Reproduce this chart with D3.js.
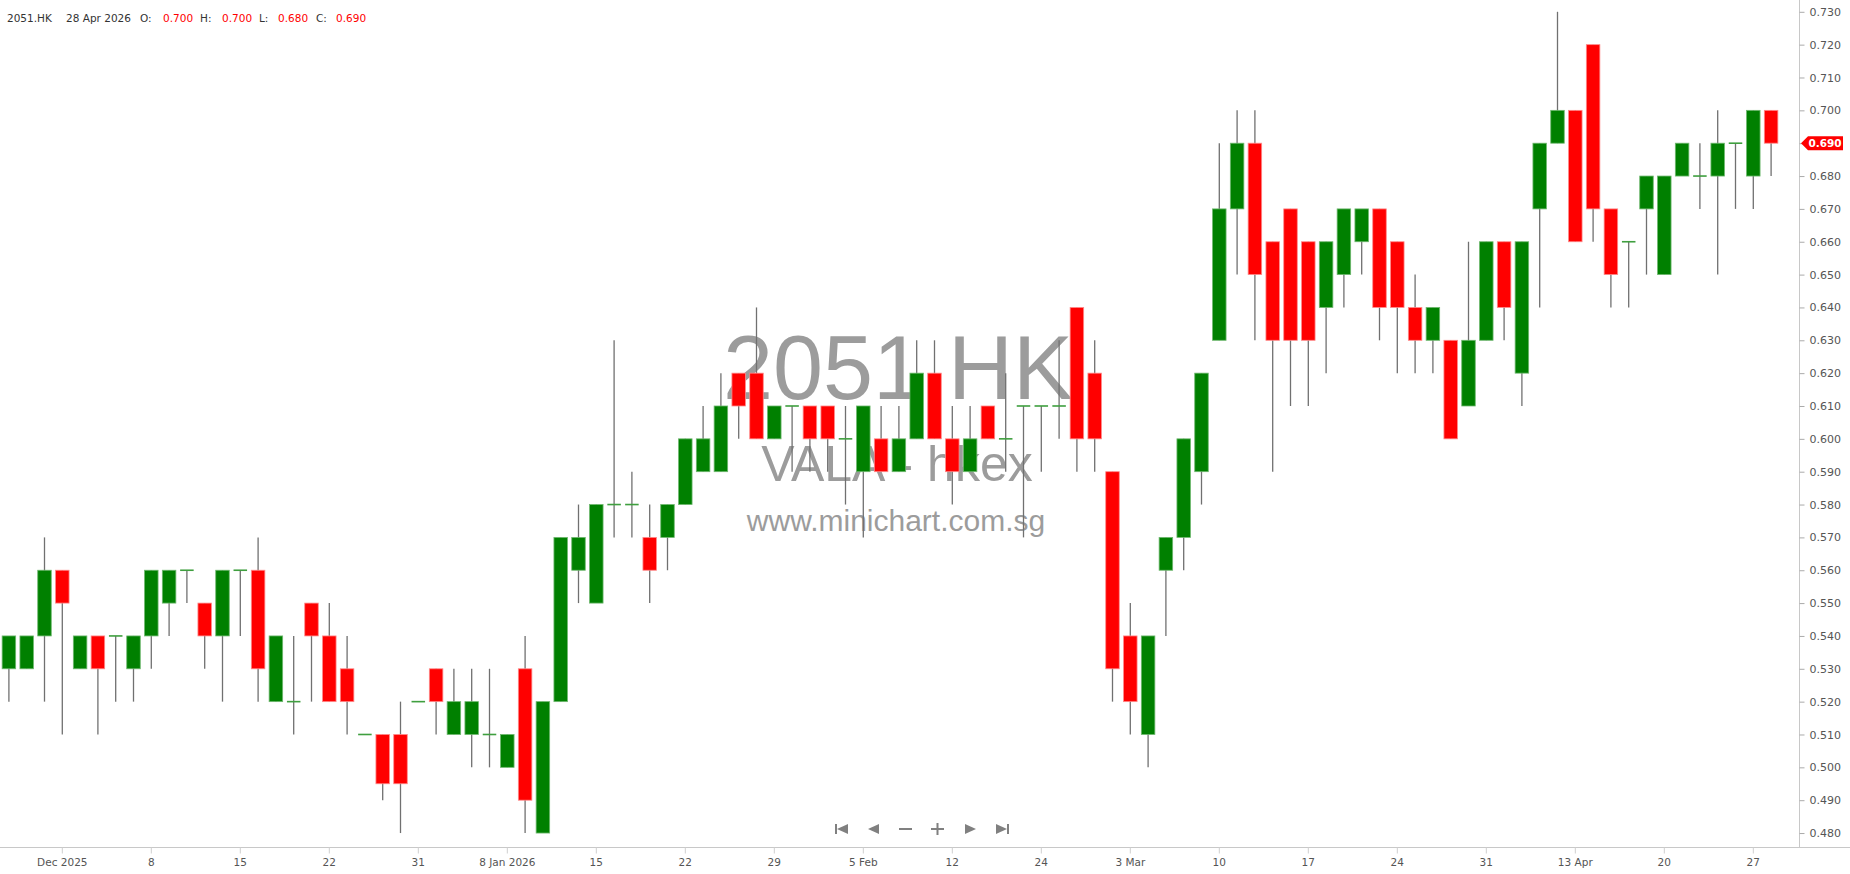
<!DOCTYPE html>
<html>
<head>
<meta charset="utf-8">
<script src="https://cdn.jsdelivr.net/npm/d3@7/dist/d3.min.js"></script>
<style>
  html, body { margin: 0; padding: 0; background: #fff; }
  svg { display: block; }
</style>
</head>
<body>
<svg id="chart" width="1850" height="874"></svg>
<script>
// ---------------- DATA ----------------
const symbol = "2051.HK";
const dates = [
  "2025-11-26","2025-11-27","2025-11-28",
  "2025-12-01","2025-12-02","2025-12-03","2025-12-04","2025-12-05","2025-12-08","2025-12-09","2025-12-10","2025-12-11","2025-12-12",
  "2025-12-15","2025-12-16","2025-12-17","2025-12-18","2025-12-19","2025-12-22","2025-12-23","2025-12-24","2025-12-29","2025-12-30","2025-12-31",
  "2026-01-02","2026-01-05","2026-01-06","2026-01-07","2026-01-08","2026-01-09","2026-01-12","2026-01-13","2026-01-14","2026-01-15","2026-01-16",
  "2026-01-19","2026-01-20","2026-01-21","2026-01-22","2026-01-23","2026-01-26","2026-01-27","2026-01-28","2026-01-29","2026-01-30",
  "2026-02-02","2026-02-03","2026-02-04","2026-02-05","2026-02-06","2026-02-09","2026-02-10","2026-02-11","2026-02-12","2026-02-13",
  "2026-02-16","2026-02-20","2026-02-23","2026-02-24","2026-02-25","2026-02-26","2026-02-27",
  "2026-03-02","2026-03-03","2026-03-04","2026-03-05","2026-03-06","2026-03-09","2026-03-10","2026-03-11","2026-03-12","2026-03-13",
  "2026-03-16","2026-03-17","2026-03-18","2026-03-19","2026-03-20","2026-03-23","2026-03-24","2026-03-25","2026-03-26","2026-03-27",
  "2026-03-30","2026-03-31",
  "2026-04-01","2026-04-02","2026-04-09","2026-04-10","2026-04-13","2026-04-14","2026-04-15","2026-04-16","2026-04-17",
  "2026-04-20","2026-04-21","2026-04-22","2026-04-23","2026-04-24","2026-04-27","2026-04-28"
];
const open = [
  0.53,0.53,0.54,0.56,0.53,0.54,0.54,0.53,0.54,0.55,
  0.56,0.55,0.54,0.56,0.56,0.52,0.52,0.55,0.54,0.53,
  0.51,0.51,0.51,0.52,0.53,0.51,0.51,0.51,0.50,0.53,
  0.48,0.52,0.56,0.55,0.58,0.58,0.57,0.57,0.58,0.59,
  0.59,0.62,0.62,0.60,0.61,0.61,0.61,0.60,0.59,0.60,
  0.59,0.60,0.62,0.60,0.59,0.61,0.60,0.61,0.61,0.61,
  0.64,0.62,0.59,0.54,0.51,0.56,0.57,0.59,0.63,0.67,
  0.69,0.66,0.67,0.66,0.64,0.65,0.66,0.67,0.66,0.64,
  0.63,0.63,0.61,0.63,0.66,0.62,0.67,0.69,0.70,0.72,
  0.67,0.66,0.67,0.65,0.68,0.68,0.68,0.69,0.68,0.70
];
const high = [
  0.54,0.54,0.57,0.56,0.54,0.54,0.54,0.54,0.56,0.56,
  0.56,0.55,0.56,0.56,0.57,0.54,0.54,0.55,0.55,0.54,
  0.51,0.51,0.52,0.52,0.53,0.53,0.53,0.53,0.51,0.54,
  0.52,0.57,0.58,0.58,0.63,0.59,0.58,0.58,0.60,0.61,
  0.62,0.62,0.64,0.61,0.61,0.61,0.61,0.61,0.61,0.61,
  0.61,0.63,0.63,0.61,0.61,0.61,0.62,0.61,0.61,0.63,
  0.64,0.63,0.59,0.55,0.54,0.57,0.60,0.62,0.69,0.70,
  0.70,0.66,0.67,0.66,0.66,0.67,0.67,0.67,0.66,0.65,
  0.64,0.63,0.66,0.66,0.66,0.66,0.69,0.73,0.70,0.72,
  0.67,0.66,0.68,0.68,0.69,0.69,0.70,0.69,0.70,0.70
];
const low = [
  0.52,0.53,0.52,0.51,0.53,0.51,0.52,0.52,0.53,0.54,
  0.55,0.53,0.52,0.54,0.52,0.52,0.51,0.52,0.52,0.51,
  0.51,0.49,0.48,0.52,0.51,0.51,0.50,0.50,0.50,0.48,
  0.48,0.52,0.55,0.55,0.57,0.57,0.55,0.56,0.58,0.59,
  0.59,0.60,0.60,0.60,0.59,0.59,0.59,0.58,0.57,0.59,
  0.59,0.60,0.60,0.58,0.59,0.60,0.59,0.57,0.59,0.60,
  0.59,0.59,0.52,0.51,0.50,0.54,0.56,0.58,0.63,0.65,
  0.63,0.59,0.61,0.61,0.62,0.64,0.65,0.63,0.62,0.62,
  0.62,0.60,0.61,0.63,0.63,0.61,0.64,0.69,0.66,0.66,
  0.64,0.64,0.65,0.65,0.68,0.67,0.65,0.67,0.67,0.68
];
const close = [
  0.54,0.54,0.56,0.55,0.54,0.53,0.54,0.54,0.56,0.56,
  0.56,0.54,0.56,0.56,0.53,0.54,0.52,0.54,0.52,0.52,
  0.51,0.495,0.495,0.52,0.52,0.52,0.52,0.51,0.51,0.49,
  0.52,0.57,0.57,0.58,0.58,0.58,0.56,0.58,0.60,0.60,
  0.61,0.61,0.60,0.61,0.61,0.60,0.60,0.60,0.61,0.59,
  0.60,0.62,0.60,0.59,0.60,0.60,0.60,0.61,0.61,0.61,
  0.60,0.60,0.53,0.52,0.54,0.57,0.60,0.62,0.67,0.69,
  0.65,0.63,0.63,0.63,0.66,0.67,0.67,0.64,0.64,0.63,
  0.64,0.60,0.63,0.66,0.64,0.66,0.69,0.70,0.66,0.67,
  0.65,0.66,0.68,0.68,0.69,0.68,0.69,0.69,0.70,0.69
];
const tickDates = [
  "2025-12-01","2025-12-08","2025-12-15","2025-12-22","2025-12-31","2026-01-08","2026-01-15",
  "2026-01-22","2026-01-29","2026-02-05","2026-02-12","2026-02-24","2026-03-03","2026-03-10",
  "2026-03-17","2026-03-24","2026-03-31","2026-04-13","2026-04-20","2026-04-27"
];
const tickLabels = [
  "Dec 2025","8","15","22","31","8 Jan 2026","15","22","29","5 Feb","12","24","3 Mar","10",
  "17","24","31","13 Apr","20","27"
];
const priceTicks = d3.range(48, 74).map(v => v / 100);
const headerDate = "28 Apr 2026";
const watermark = ["2051.HK", "VALA - hkex", "www.minichart.com.sg"];

// ---------------- LAYOUT ----------------
const W = 1850, H = 874;
const plotRight = 1799, plotBottom = 847;
const UP = "#008000", DOWN = "#ff0000";
const uiFont = "'DejaVu Sans', Verdana, sans-serif";

const svg = d3.select("#chart");
svg.append("rect").attr("width", W).attr("height", H).attr("fill", "#fff");

const x = d3.scaleBand().domain(dates).range([0, 1780]).paddingInner(0.24).paddingOuter(0.12);
const y = d3.scaleLinear().domain([0.47575, 0.733592]).range([plotBottom, 0]);
const bw = x.bandwidth();
const cx = d => x(d) + bw / 2;

const candles = dates.map((d, i) => ({ d, o: open[i], h: high[i], l: low[i], c: close[i] }));

// ---------------- WATERMARK ----------------
const wm = svg.append("g").attr("font-family", "'Liberation Sans', Arial, sans-serif")
  .attr("fill", "#9c9c9c").attr("text-anchor", "middle");
wm.append("text").attr("x", 898).attr("y", 399).attr("font-size", 90).text(watermark[0]);
wm.append("text").attr("x", 897).attr("y", 481).attr("font-size", 50).text(watermark[1]);
wm.append("text").attr("x", 896).attr("y", 531).attr("font-size", 30).text(watermark[2]);

// ---------------- AXES ----------------
// right axis line
svg.append("line").attr("x1", plotRight + 0.5).attr("x2", plotRight + 0.5)
  .attr("y1", 0).attr("y2", plotBottom).attr("stroke", "#c8c8c8");
// bottom axis line
svg.append("line").attr("x1", 0).attr("x2", W)
  .attr("y1", plotBottom + 0.5).attr("y2", plotBottom + 0.5).attr("stroke", "#c8c8c8");

const yAxis = d3.axisRight(y).tickValues(priceTicks).tickFormat(d3.format(".3f"))
  .tickSize(5).tickPadding(5);
const gy = svg.append("g").attr("transform", `translate(${plotRight + 0.5},0)`).call(yAxis);
gy.select(".domain").remove();
gy.selectAll("line").attr("stroke", "#aaa");
gy.selectAll("text").attr("font-family", uiFont).attr("font-size", 11).attr("fill", "#555");

const xAxis = d3.axisBottom(x).tickValues(tickDates)
  .tickFormat(d => tickLabels[tickDates.indexOf(d)]).tickSize(6).tickPadding(5);
const gx = svg.append("g").attr("transform", `translate(0,${plotBottom + 0.5})`).call(xAxis);
gx.select(".domain").remove();
gx.selectAll("line").attr("stroke", "#cfcfcf");
gx.selectAll("text").attr("font-family", uiFont).attr("font-size", 10.5).attr("fill", "#555");

// ---------------- CANDLES ----------------
const g = svg.append("g");
g.selectAll("line.wick").data(candles).join("line").attr("class", "wick")
  .attr("x1", d => cx(d.d)).attr("x2", d => cx(d.d))
  .attr("y1", d => y(d.h)).attr("y2", d => y(d.l))
  .attr("stroke", "#707070").attr("stroke-width", 1.3);

g.selectAll("rect.body").data(candles.filter(d => d.o !== d.c)).join("rect").attr("class", "body")
  .attr("x", d => x(d.d)).attr("width", bw)
  .attr("y", d => y(Math.max(d.o, d.c)))
  .attr("height", d => Math.abs(y(d.o) - y(d.c)))
  .attr("fill", d => d.c > d.o ? UP : DOWN)
  .attr("stroke", d => d.c > d.o ? "#6fb86f" : "#ff8a8a").attr("stroke-width", 0.8);

g.selectAll("rect.doji").data(candles.filter(d => d.o === d.c)).join("rect").attr("class", "doji")
  .attr("x", d => x(d.d)).attr("width", bw)
  .attr("y", d => y(d.c) - 0.8).attr("height", 1.6)
  .attr("fill", "#3f9f3f");

// ---------------- LAST PRICE TAG ----------------
const last = candles[candles.length - 1];
const ly = y(last.c);
svg.append("path")
  .attr("d", `M${plotRight + 2},${ly} L${plotRight + 9},${ly - 7} L${plotRight + 44},${ly - 7} L${plotRight + 44},${ly + 7} L${plotRight + 9},${ly + 7} Z`)
  .attr("fill", DOWN);
svg.append("text").attr("x", plotRight + 26).attr("y", ly + 4).attr("text-anchor", "middle")
  .attr("font-family", uiFont).attr("font-size", 10.5).attr("font-weight", "bold")
  .attr("fill", "#fff").text(d3.format(".3f")(last.c));

// ---------------- HEADER ----------------
const hdr = svg.append("g").attr("font-family", uiFont).attr("font-size", 10.5);
const fmt = d3.format(".3f");
const parts = [
  [symbol, "#333", 7], [headerDate, "#333", 66],
  ["O:", "#333", 140], [fmt(last.o), DOWN, 163],
  ["H:", "#333", 200], [fmt(last.h), DOWN, 222],
  ["L:", "#333", 259], [fmt(last.l), DOWN, 278],
  ["C:", "#333", 316], [fmt(last.c), DOWN, 336]
];
parts.forEach(p => hdr.append("text").attr("x", p[2]).attr("y", 22).attr("fill", p[1]).text(p[0]));

// ---------------- NAV BUTTONS ----------------
const nav = svg.append("g").attr("fill", "#808080").attr("stroke", "none");
const ny = 829;
nav.append("rect").attr("x", 835).attr("y", ny - 5).attr("width", 2).attr("height", 10);
nav.append("path").attr("d", `M837,${ny} L848,${ny - 5} L848,${ny + 5} Z`);
nav.append("path").attr("d", `M868,${ny} L879,${ny - 5} L879,${ny + 5} Z`);
nav.append("rect").attr("x", 899).attr("y", ny - 1).attr("width", 13).attr("height", 2);
nav.append("rect").attr("x", 931).attr("y", ny - 1).attr("width", 13).attr("height", 2);
nav.append("rect").attr("x", 936.5).attr("y", ny - 6).attr("width", 2).attr("height", 12);
nav.append("path").attr("d", `M965,${ny - 5} L976,${ny} L965,${ny + 5} Z`);
nav.append("path").attr("d", `M996,${ny - 5} L1007,${ny} L996,${ny + 5} Z`);
nav.append("rect").attr("x", 1007).attr("y", ny - 5).attr("width", 2).attr("height", 10);
</script>
</body>
</html>
